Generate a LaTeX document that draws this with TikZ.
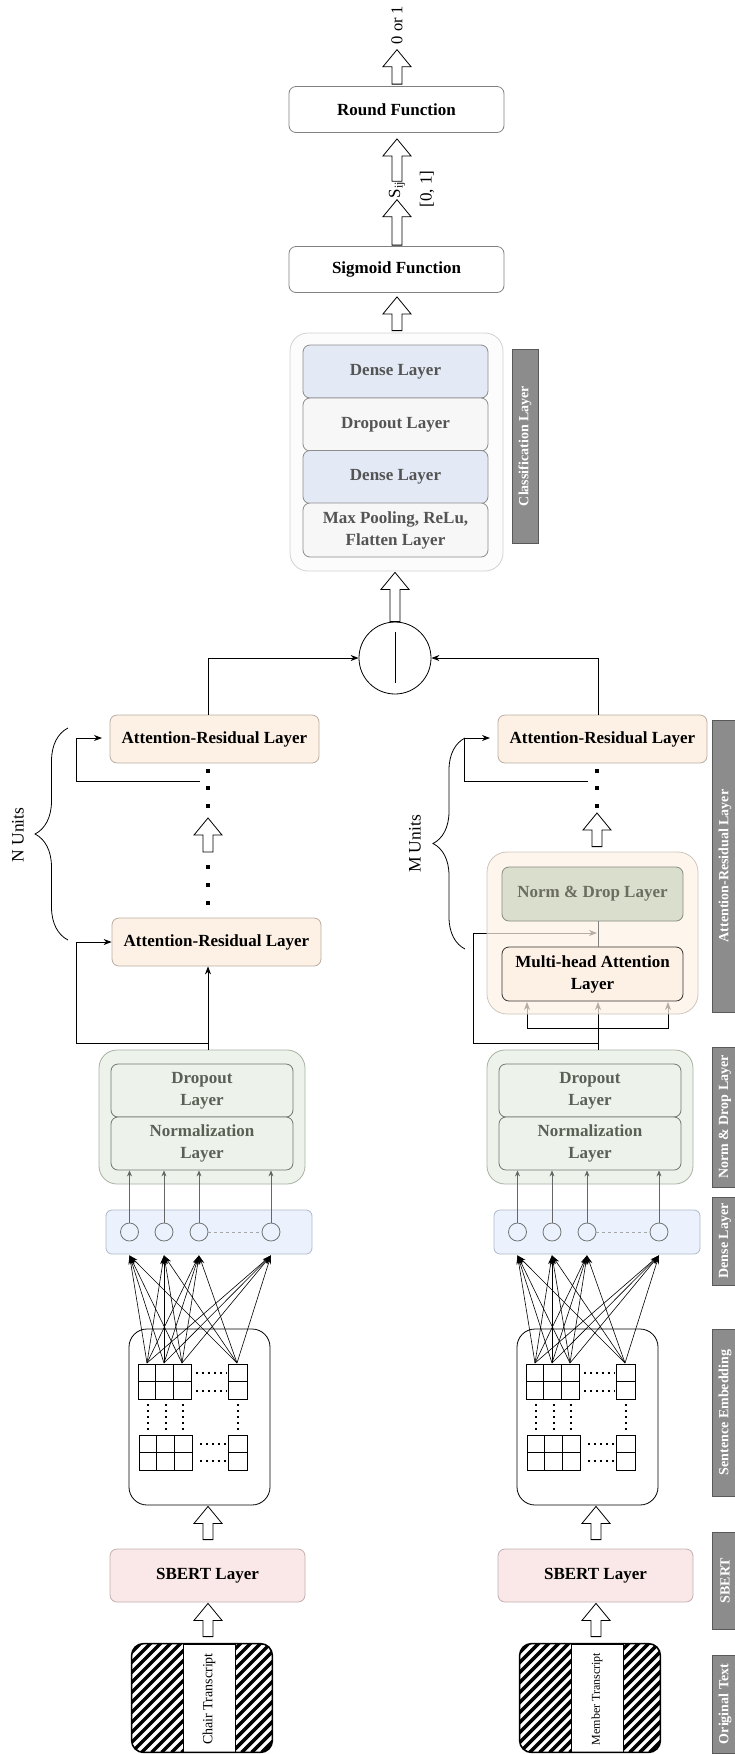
\documentclass[tikz,border=0pt]{standalone}
\usepackage{fontspec}
\setmainfont{Liberation Serif}
\usetikzlibrary{calc,arrows.meta,decorations.pathreplacing}

\definecolor{arfill}{HTML}{FDF1E6}
\definecolor{arline}{HTML}{B9ADA2}
\definecolor{ndfill}{HTML}{EDF3EA}
\definecolor{ndline}{HTML}{A7B1A2}
\definecolor{ndtext}{HTML}{596056}
\definecolor{dnfill}{HTML}{EBF2FD}
\definecolor{dnline}{HTML}{AFB9CA}
\definecolor{clsblue}{HTML}{E3EAF6}
\definecolor{clstext}{HTML}{545454}
\definecolor{sbfill}{HTML}{FAE8E8}
\definecolor{sbline}{HTML}{C3AFAF}
\definecolor{barfill}{HTML}{8C8C8C}
\definecolor{nrmfill}{HTML}{D9DFCC}
\definecolor{nrmtext}{HTML}{6C6D60}

\begin{document}
\begin{tikzpicture}[x=1pt,y=-1pt,line width=0.8pt,
    lbl/.style={font=\fontsize{17}{22}\selectfont\bfseries, align=center},
    rbox/.style={draw, rounded corners=7pt, lbl},
    fnbox/.style={rbox, draw=black!50, minimum width=215pt, minimum height=46pt},
    arbox/.style={rbox, draw=arline, fill=arfill, minimum width=209pt, minimum height=48pt},
    clsbox/.style={rbox, draw=black!45, text=clstext, minimum width=185pt, minimum height=53pt},
    ndbox/.style={rbox, draw=ndtext!85, fill=ndfill, text=ndtext, minimum width=182pt, minimum height=53pt},
    sidebar/.style={draw=black!65, fill=barfill, text=white, rotate=90, minimum height=26pt, inner sep=0pt, font=\fontsize{14}{16}\selectfont\bfseries},
    unit/.style={circle, draw=black!55, minimum size=18pt, inner sep=0pt},
    arr/.style={-{Stealth[length=8pt,width=6pt]}},
    garr/.style={draw=black!60, -{Stealth[length=6pt,width=5pt]}},
    farr/.style={line width=0.6pt, -{Stealth[length=9pt,width=5pt]}},
    hollow/.style={draw, fill=white, to path={let \p1=(\tikztostart), \p2=(\tikztotarget) in
      (\x1-5pt,\y1) -- (\x1-5pt,\y2-17pt) -- (\x1-14pt,\y2-17pt) -- (\x1,\y2) -- (\x1+14pt,\y2-17pt) -- (\x1+5pt,\y2-17pt) -- (\x1+5pt,\y1) -- cycle}},
    brc/.style={decorate, decoration={brace, amplitude=#1}}
  ]
  \useasboundingbox (0,0) rectangle (734,1754);

  % output part
  \node[rotate=90, inner sep=0pt, font=\fontsize{16.5}{18}\selectfont] (out) at (397,25) {0 or 1};
  \node[fnbox] (round) at (396.5,109.5) {Round Function};
  \node[rotate=90, inner sep=0pt, font=\fontsize{17}{20}\selectfont] (sij) at (397,190) {S\textsubscript{ij}};
  \node[rotate=90, inner sep=0pt, font=\fontsize{17}{20}\selectfont] (range) at (427,189) {[0, 1]};
  \node[fnbox] (sigm) at (396.5,269.5) {Sigmoid Function};
  \draw[hollow] ($(round.north)+(0.5,-2)$) to ($(out.west)+(0,5)$);
  \draw[hollow] (sij.east) to ($(round.south)+(0,6)$);
  \draw[hollow] ($(sigm.north)+(0.5,-1)$) to ($(sij.west)+(0,1)$);

  % classification layer
  \node[draw=black!18, fill=black!1, rounded corners=18pt, minimum width=213pt, minimum height=238pt] (cls) at (396.5,452) {};
  \node[clsbox, fill=clsblue] (dense1) at (395.5,371.5) {Dense Layer};
  \node[clsbox, fill=black!3] (drop) at (395.5,424.5) {Dropout Layer};
  \node[clsbox, fill=clsblue] (dense2) at (395.5,477) {Dense Layer};
  \node[clsbox, fill=black!3, minimum height=54pt] (pool) at (395.5,530) {Max Pooling, ReLu,\\Flatten Layer};
  \node[sidebar, minimum width=194pt] (barcls) at (525,446) {Classification Layer};
  \draw[hollow] ($(cls.north)+(0.5,-2)$) to ($(sigm.south)+(0,4)$);

  % concatenation
  \node[circle, draw, minimum size=72pt, inner sep=0pt] (cat) at (395,658) {};
  \draw ($(cat.center)+(0,-26)$) -- ($(cat.center)+(0,25)$);
  \draw[hollow] (cat.north) to ($(cls.south)+(0,1)$);

  % lower layers, both branches
  \foreach \s/\dx/\doc/\fs in {L/0/Chair Transcript/14, R/388/Member Transcript/12} {
    \node[draw=ndline, fill=ndfill, rounded corners=18pt, minimum width=206pt, minimum height=134pt] (nd\s) at (202+\dx,1117) {};
    \node[ndbox] (drop\s) at (202+\dx,1090.5) {Dropout\\Layer};
    \node[ndbox] (norm\s) at (202+\dx,1143.5) {Normalization\\Layer};
    \node[draw=dnline, fill=dnfill, rounded corners=6pt, minimum width=206pt, minimum height=44pt] (dn\s) at (209+\dx,1232) {};
    \foreach \n/\x in {1/129.5,2/164,3/199,4/271}
      \node[unit] (c\s\n) at (\x+\dx,1232) {};
    \draw[dashed, draw=black!35, line width=0.6pt] (c\s3.east) -- (c\s4.west);
    \foreach \n in {1,...,4}
      \draw[garr] (c\s\n.north) -- (c\s\n.north |- norm\s.south);
    % sentence embedding
    \node[draw, rounded corners=18pt, minimum width=141pt, minimum height=176pt] (emb\s) at (199.5+\dx,1417) {};
    \foreach \i in {0,1,2} \foreach \j in {0,1} {
      \draw (138+\dx+\i*17.7,1364+\j*17.5) rectangle ++(17.7,17.5);
      \draw (139+\dx+\i*17.7,1435+\j*17.5) rectangle ++(17.7,17.5);
    }
    \foreach \j in {0,1} {
      \draw (228+\dx,1364+\j*17.5) rectangle ++(19,17.5);
      \draw (228+\dx,1435+\j*17.5) rectangle ++(19,17.5);
    }
    \foreach \y in {1373,1391}
      \draw[line width=1.2pt, dash pattern=on 1.5pt off 4.5pt] (196+\dx,\y) -- (227+\dx,\y);
    \foreach \y in {1444,1461}
      \draw[line width=1.2pt, dash pattern=on 1.5pt off 4.5pt] (200+\dx,\y) -- (227+\dx,\y);
    \foreach \x in {148,166,183,238}
      \draw[line width=1.2pt, dash pattern=on 1.5pt off 4.5pt] (\x+\dx,1404) -- (\x+\dx,1434);
    \foreach \a/\xa in {1/147,2/164,3/182,4/237}
      \coordinate (g\s\a) at (\xa+\dx,1363);
    \foreach \a in {1,...,4} \foreach \b in {1,...,4}
      \draw[farr] (g\s\a) -- ($(c\s\b.south)+(0,14)$);
    % sbert and text
    \node[rbox, draw=sbline, fill=sbfill, minimum width=195pt, minimum height=53pt] (sbert\s) at (207.5+\dx,1575.5) {SBERT Layer};
    \node[minimum width=140pt, minimum height=108pt, inner sep=0pt] (doc\s) at (202+\dx,1698) {};
    \begin{scope}
      \clip[rounded corners=12pt] (doc\s.south west) rectangle (doc\s.north east);
      \foreach \k in {-12,...,14}
        \draw[line width=3.5pt] ($(doc\s.south west)+(\k*10,0)$) -- ++(112,-112);
    \end{scope}
    \draw[fill=white, line width=0.6pt] (183+\dx,1644) rectangle (235+\dx,1752);
    \draw[line width=1.6pt, rounded corners=12pt] (doc\s.south west) rectangle (doc\s.north east);
    \node[rotate=90, inner sep=0pt, font=\fontsize{\fs}{\fs}\selectfont] (txt\s) at (209+\dx,1699) {\doc};
    \draw[hollow] ($(doc\s.north)+(6,-7)$) to ($(sbert\s.south)+(0,1)$);
    \draw[hollow] ($(sbert\s.north)+(0.5,-9)$) to ($(emb\s.south)+(0,1)$);
  }

  % left branch: N units
  \node[arbox] (arL1) at (216.5,942) {Attention-Residual Layer};
  \node[arbox] (arL2) at (214.5,739) {Attention-Residual Layer};
  \coordinate (splitL) at (208,1043);
  \coordinate (loopL) at (200,781);
  \coordinate (gapL1) at (208,852);
  \coordinate (gapL2) at (208,818);
  \draw[arr] (splitL |- ndL.north) -- (splitL |- arL1.south);
  \draw[arr] (splitL) -| (76,942) -- (arL1.west);
  \draw[arr] (loopL) -| (76,738) -- (102,738);
  \foreach \y in {771,788,806,867,885,903}
    \fill (206,\y-2) rectangle (210,\y+2);
  \draw[hollow] (gapL1) to (gapL2);
  \draw[arr] ([xshift=-6.5pt]arL2.north) |- (cat.west);
  \draw[brc=33pt] (68,940) -- (68,728);
  \node[rotate=90, inner sep=0pt, font=\fontsize{17.5}{20}\selectfont] (nunits) at (18,835) {N Units};

  % right branch: M units
  \coordinate (splitR) at (598,1043);
  \coordinate (fanR) at (598,1028);
  \coordinate (loopR) at (588,781);
  \draw (splitR |- ndR.north) -- (fanR);
  \draw[arr] (fanR) -- (598,1002);
  \draw[arr] (fanR) -| (527,1002);
  \draw[arr] (fanR) -| (668,1002);
  \draw[arr] (splitR) -| (473,933) -- (597,933);
  \node[draw=arline!70, fill=arfill, fill opacity=0.72, rounded corners=20pt, minimum width=211pt, minimum height=162pt] (attR) at (592.5,933) {};
  \node[rbox, draw=nrmtext!80, fill=nrmfill, text=nrmtext, minimum width=181pt, minimum height=54pt] (ndR2) at (592.5,894) {Norm \& Drop Layer};
  \node[rbox, draw=black!80, fill=arfill, minimum width=181pt, minimum height=54pt] (mhR) at (592.5,974) {Multi-head Attention\\Layer};
  \draw[draw=black!50] ([xshift=5.5pt]mhR.north) -- ([xshift=5.5pt]ndR2.south);
  \node[arbox] (arR2) at (602.5,739) {Attention-Residual Layer};
  \foreach \y in {771,788,806}
    \fill (595,\y-2) rectangle (599,\y+2);
  \draw[hollow] ($(attR.north)+(4.5,-5)$) to (597,813);
  \draw[arr] (loopR) -| (464,738) -- (490,738);
  \draw[arr] ([xshift=-4.5pt]arR2.north) |- (cat.east);
  \draw[brc=32pt] (465,949) -- (465,738);
  \node[rotate=90, inner sep=0pt, font=\fontsize{17.5}{20}\selectfont] (munits) at (415,844) {M Units};

  % side labels
  \node[sidebar, minimum width=292pt] (barar) at (725,866) {Attention-Residual Layer};
  \node[sidebar, minimum width=140pt] (barnd) at (725,1117) {Norm \& Drop Layer};
  \node[sidebar, minimum width=88pt] (bardn) at (725,1241) {Dense Layer};
  \node[sidebar, minimum width=167pt] (barse) at (725,1412.5) {Sentence Embedding};
  \node[sidebar, minimum width=97pt] (barsb) at (725,1580.5) {SBERT};
  \node[sidebar, minimum width=98pt] (barot) at (725,1704) {Original Text};
\end{tikzpicture}
\end{document}
